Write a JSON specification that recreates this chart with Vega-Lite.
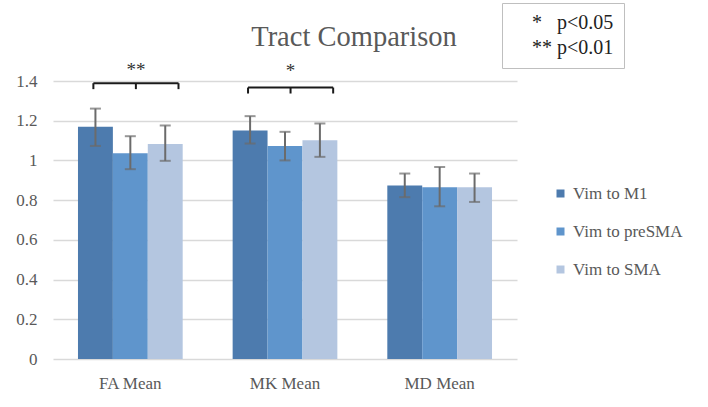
{
  "$schema": "https://vega.github.io/schema/vega-lite/v6.json",
  "width": 464,
  "height": 278,
  "autosize": "none",
  "padding": {"left": 53, "top": 81, "right": 191, "bottom": 48},
  "background": "white",
  "title": {
    "text": "Tract Comparison",
    "font": "Liberation Serif",
    "fontSize": 28.5,
    "fontWeight": "normal",
    "color": "#595959",
    "anchor": "middle",
    "baseline": "alphabetic",
    "dx": 69,
    "dy": 80,
    "offset": 8
  },
  "datasets": {
    "bars": [
      {"cat": "FA Mean", "series": "Vim to M1", "mean": 1.17, "lo": 1.073, "hi": 1.261},
      {"cat": "FA Mean", "series": "Vim to preSMA", "mean": 1.036, "lo": 0.956, "hi": 1.122},
      {"cat": "FA Mean", "series": "Vim to SMA", "mean": 1.083, "lo": 0.998, "hi": 1.176},
      {"cat": "MK Mean", "series": "Vim to M1", "mean": 1.151, "lo": 1.085, "hi": 1.223},
      {"cat": "MK Mean", "series": "Vim to preSMA", "mean": 1.073, "lo": 1.0, "hi": 1.144},
      {"cat": "MK Mean", "series": "Vim to SMA", "mean": 1.102, "lo": 1.018, "hi": 1.186},
      {"cat": "MD Mean", "series": "Vim to M1", "mean": 0.874, "lo": 0.815, "hi": 0.934},
      {"cat": "MD Mean", "series": "Vim to preSMA", "mean": 0.865, "lo": 0.769, "hi": 0.967},
      {"cat": "MD Mean", "series": "Vim to SMA", "mean": 0.865, "lo": 0.791, "hi": 0.934}
    ],
    "brackets": [
      {"cat": "FA Mean", "top": 1.389, "bot": 1.359, "star": "**", "ystar": 1.455},
      {"cat": "MK Mean", "top": 1.367, "bot": 1.337, "star": "*", "ystar": 1.452}
    ],
    "notes": [
      {"note": "**\u00a0p<0.01"},
      {"note": "*\u00a0\u00a0\u00a0p<0.05"}
    ]
  },
  "encoding": {
    "x": {
      "field": "cat",
      "type": "nominal",
      "scale": {"domain": ["FA Mean", "MK Mean", "MD Mean"], "paddingInner": 0.323, "paddingOuter": 0.1615},
      "axis": {"title": null, "ticks": false, "domain": false, "labelPadding": 16, "labelFontSize": 17, "labelAngle": 0, "labelFont": "Liberation Serif"}
    }
  },
  "layer": [
    {
      "data": {"name": "bars"},
      "mark": {"type": "bar"},
      "encoding": {
        "xOffset": {"field": "series", "type": "nominal", "scale": {"domain": ["Vim to M1", "Vim to preSMA", "Vim to SMA"]}},
        "y": {
          "field": "mean",
          "type": "quantitative",
          "scale": {"domain": [0, 1.4], "nice": false},
          "axis": {"title": null, "values": [0, 0.2, 0.4, 0.6, 0.8, 1, 1.2, 1.4], "format": "~g", "ticks": false, "domain": false, "labelPadding": 16, "labelFontSize": 17, "labelOverlap": false, "grid": true, "labelFont": "Liberation Serif"}
        },
        "color": {
          "field": "series",
          "type": "nominal",
          "scale": {"domain": ["Vim to M1", "Vim to preSMA", "Vim to SMA"], "range": ["#4d7bae", "#5f95cc", "#b4c6e0"]},
          "legend": {
            "title": null,
            "orient": "none",
            "legendX": 499,
            "legendY": 104,
            "symbolType": "square",
            "symbolSize": 64,
            "symbolStrokeWidth": 0,
            "labelFont": "Liberation Serif",
            "labelFontSize": 17,
            "labelColor": "#595959",
            "labelOffset": 4,
            "rowPadding": 20,
            "padding": 0
          }
        }
      }
    },
    {
      "data": {"name": "bars"},
      "mark": {"type": "rule", "color": "#6b6b6b", "strokeWidth": 2},
      "encoding": {
        "xOffset": {"field": "series", "type": "nominal"},
        "y": {"field": "lo", "type": "quantitative", "axis": {"title": null, "values": [0, 0.2, 0.4, 0.6, 0.8, 1, 1.2, 1.4], "format": "~g", "ticks": false, "domain": false, "labelPadding": 16, "labelFontSize": 17, "labelOverlap": false, "grid": true, "labelFont": "Liberation Serif"}},
        "y2": {"field": "hi"}
      }
    },
    {
      "data": {"name": "bars"},
      "mark": {"type": "tick", "color": "#6b6b6b", "thickness": 2, "size": 11},
      "encoding": {
        "xOffset": {"field": "series", "type": "nominal"},
        "y": {"field": "lo", "type": "quantitative", "axis": {"title": null, "values": [0, 0.2, 0.4, 0.6, 0.8, 1, 1.2, 1.4], "format": "~g", "ticks": false, "domain": false, "labelPadding": 16, "labelFontSize": 17, "labelOverlap": false, "grid": true, "labelFont": "Liberation Serif"}}
      }
    },
    {
      "data": {"name": "bars"},
      "mark": {"type": "tick", "color": "#6b6b6b", "thickness": 2, "size": 11},
      "encoding": {
        "xOffset": {"field": "series", "type": "nominal"},
        "y": {"field": "hi", "type": "quantitative", "axis": {"title": null, "values": [0, 0.2, 0.4, 0.6, 0.8, 1, 1.2, 1.4], "format": "~g", "ticks": false, "domain": false, "labelPadding": 16, "labelFontSize": 17, "labelOverlap": false, "grid": true, "labelFont": "Liberation Serif"}}
      }
    },
    {
      "data": {"name": "brackets"},
      "mark": {"type": "rule", "color": "#1a1a1a", "strokeWidth": 2},
      "encoding": {
        "x": {"field": "cat", "type": "nominal", "bandPosition": 0.147},
        "x2": {"field": "cat", "bandPosition": 0.96},
        "y": {"field": "top", "type": "quantitative", "axis": {"title": null, "values": [0, 0.2, 0.4, 0.6, 0.8, 1, 1.2, 1.4], "format": "~g", "ticks": false, "domain": false, "labelPadding": 16, "labelFontSize": 17, "labelOverlap": false, "grid": true, "labelFont": "Liberation Serif"}}
      }
    },
    {
      "data": {"name": "brackets"},
      "mark": {"type": "rule", "color": "#1a1a1a", "strokeWidth": 2},
      "encoding": {
        "x": {"field": "cat", "type": "nominal", "bandPosition": 0.147},
        "y": {"field": "top", "type": "quantitative", "axis": {"title": null, "values": [0, 0.2, 0.4, 0.6, 0.8, 1, 1.2, 1.4], "format": "~g", "ticks": false, "domain": false, "labelPadding": 16, "labelFontSize": 17, "labelOverlap": false, "grid": true, "labelFont": "Liberation Serif"}},
        "y2": {"field": "bot"}
      }
    },
    {
      "data": {"name": "brackets"},
      "mark": {"type": "rule", "color": "#1a1a1a", "strokeWidth": 2},
      "encoding": {
        "x": {"field": "cat", "type": "nominal", "bandPosition": 0.553},
        "y": {"field": "top", "type": "quantitative", "axis": {"title": null, "values": [0, 0.2, 0.4, 0.6, 0.8, 1, 1.2, 1.4], "format": "~g", "ticks": false, "domain": false, "labelPadding": 16, "labelFontSize": 17, "labelOverlap": false, "grid": true, "labelFont": "Liberation Serif"}},
        "y2": {"field": "bot"}
      }
    },
    {
      "data": {"name": "brackets"},
      "mark": {"type": "rule", "color": "#1a1a1a", "strokeWidth": 2},
      "encoding": {
        "x": {"field": "cat", "type": "nominal", "bandPosition": 0.96},
        "y": {"field": "top", "type": "quantitative", "axis": {"title": null, "values": [0, 0.2, 0.4, 0.6, 0.8, 1, 1.2, 1.4], "format": "~g", "ticks": false, "domain": false, "labelPadding": 16, "labelFontSize": 17, "labelOverlap": false, "grid": true, "labelFont": "Liberation Serif"}},
        "y2": {"field": "bot"}
      }
    },
    {
      "data": {"name": "brackets"},
      "mark": {"type": "text", "font": "Liberation Serif", "fontSize": 19, "color": "#333333", "baseline": "middle", "align": "center"},
      "encoding": {
        "x": {"field": "cat", "type": "nominal", "bandPosition": 0.553},
        "y": {"field": "ystar", "type": "quantitative", "axis": {"title": null, "values": [0, 0.2, 0.4, 0.6, 0.8, 1, 1.2, 1.4], "format": "~g", "ticks": false, "domain": false, "labelPadding": 16, "labelFontSize": 17, "labelOverlap": false, "grid": true, "labelFont": "Liberation Serif"}},
        "text": {"field": "star"}
      }
    },
    {
      "data": {"name": "notes"},
      "mark": {"type": "point", "opacity": 0},
      "encoding": {
        "shape": {
          "field": "note",
          "type": "nominal",
          "sort": "descending",
          "legend": {
            "title": null,
            "orient": "none",
            "legendX": 449,
            "legendY": -78,
            "symbolType": "circle",
            "symbolSize": 0,
            "symbolStrokeWidth": 0,
            "symbolOpacity": 0,
            "labelFont": "Liberation Serif",
            "labelFontSize": 20,
            "labelColor": "#222222",
            "labelOffset": 0,
            "labelLimit": 400,
            "rowPadding": 5,
            "padding": 10,
            "strokeColor": "#bfbfbf"
          }
        }
      }
    }
  ],
  "config": {
    "view": {"stroke": null},
    "font": "Liberation Serif",
    "axis": {"labelFont": "Liberation Serif", "labelColor": "#595959", "gridColor": "#d9d9d9", "gridWidth": 1.5},
    "legend": {"labelFont": "Liberation Serif"}
  }
}
